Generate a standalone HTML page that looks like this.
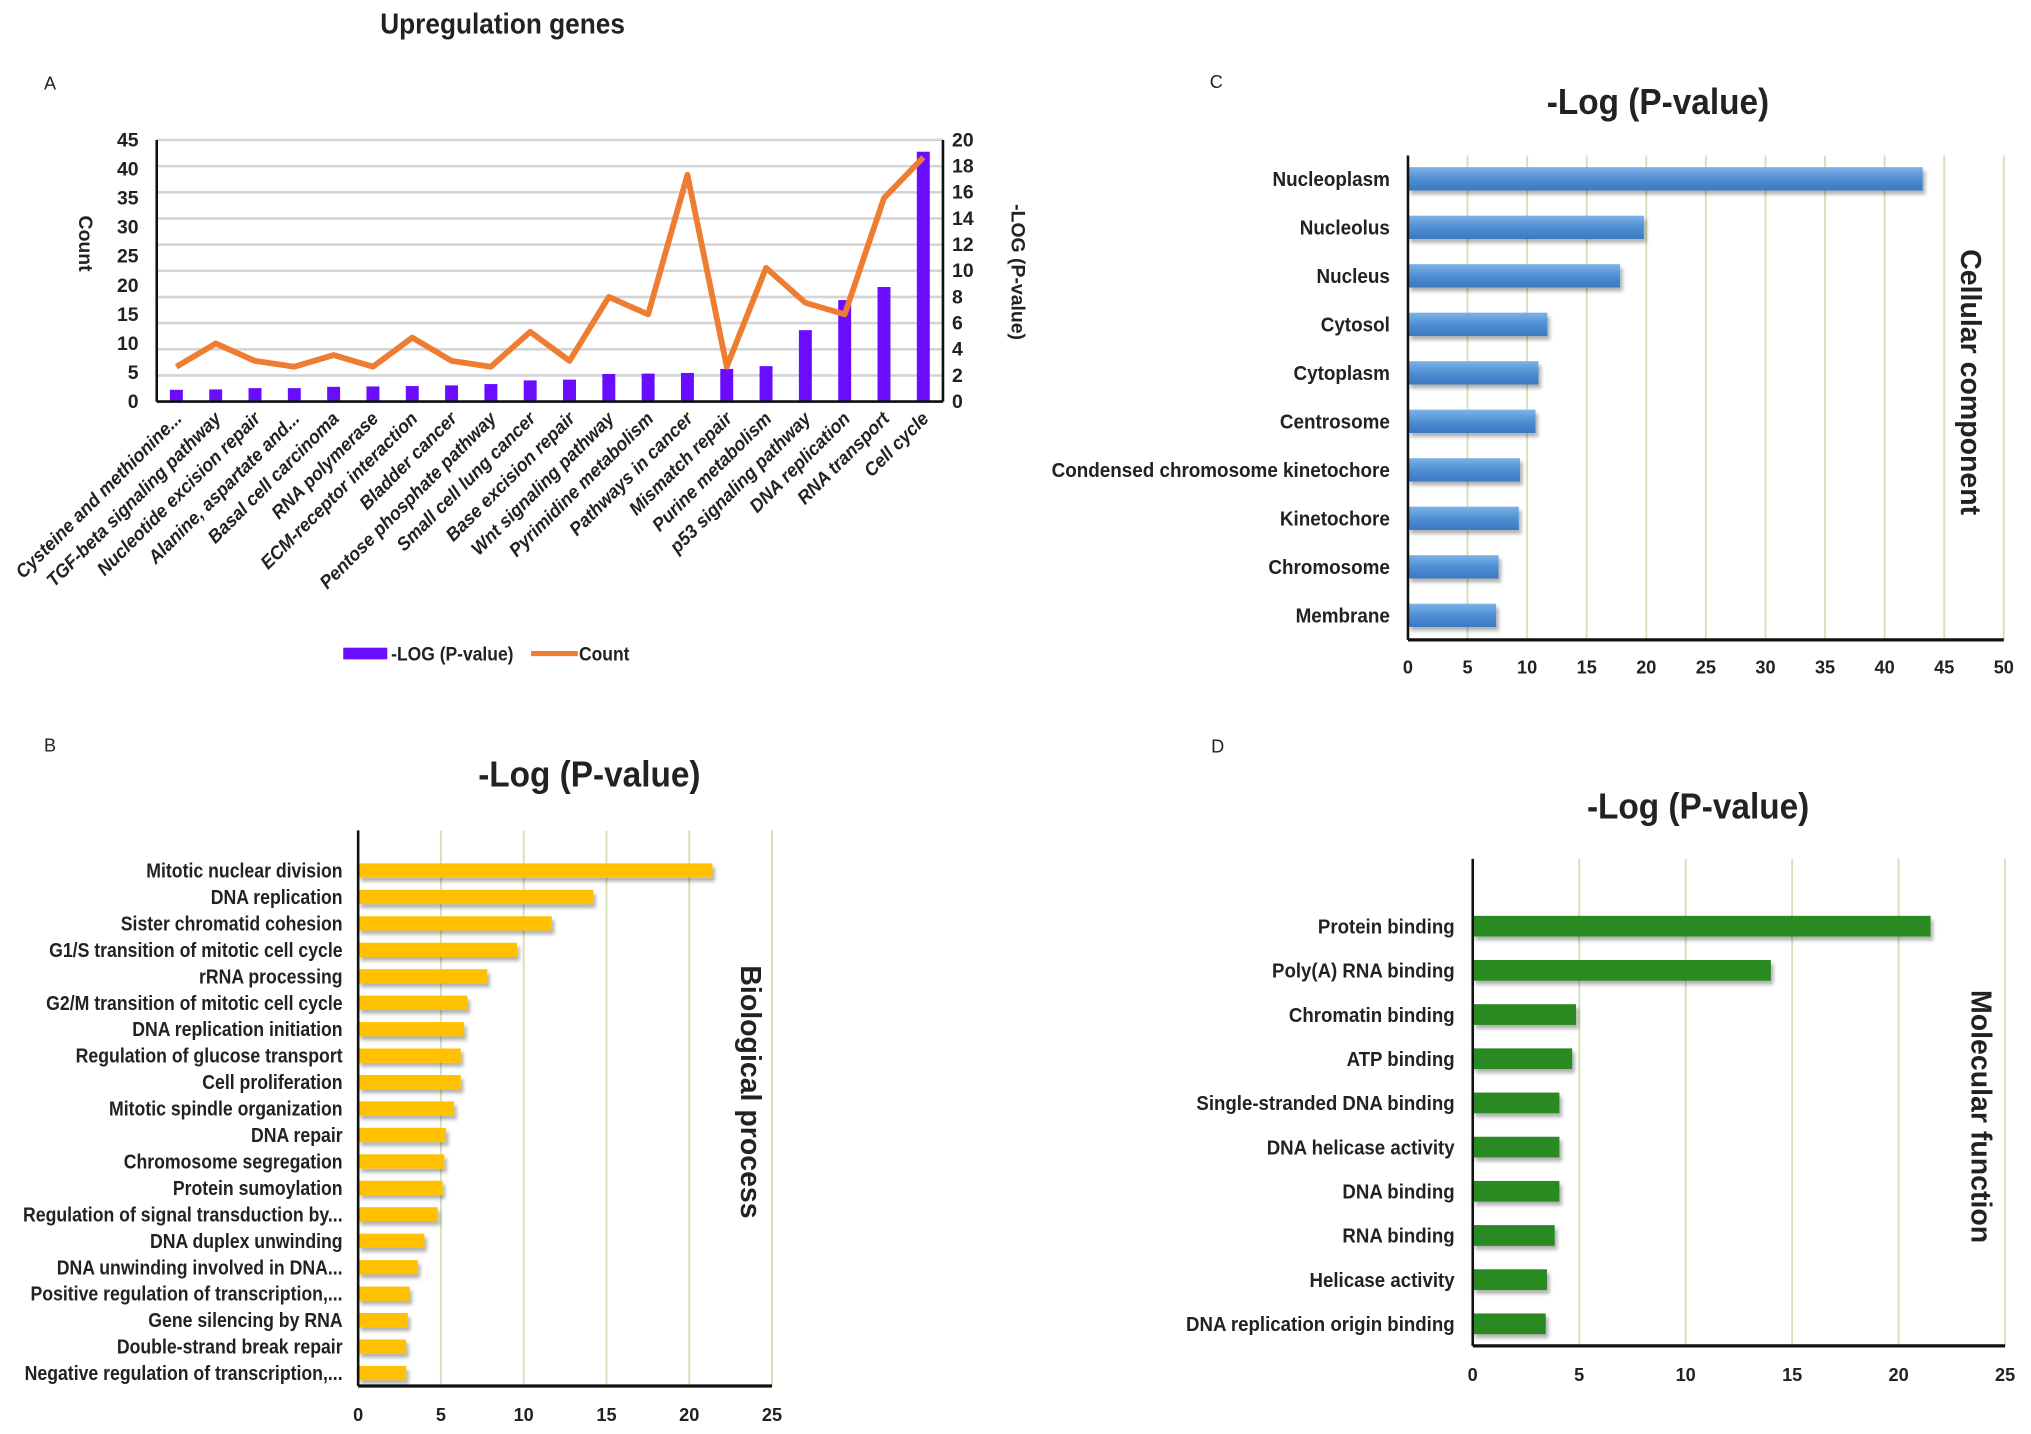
<!DOCTYPE html>
<html><head><meta charset="utf-8"><style>
html,body{margin:0;padding:0;background:#fff}
svg{display:block}
text{font-family:"Liberation Sans Narrow","Liberation Sans",sans-serif;font-weight:bold;fill:#222}
</style></head><body>
<svg id="fig" xmlns="http://www.w3.org/2000/svg" width="2031" height="1434" viewBox="0 0 1568 1107">
<defs>
<linearGradient id="gBlue" x1="0" y1="0" x2="0" y2="1"><stop offset="0" stop-color="#7fb2e6"/><stop offset="0.5" stop-color="#4f8fd4"/><stop offset="1" stop-color="#3a78c0"/></linearGradient>
<filter id="sh" x="-10%" y="-30%" width="130%" height="190%"><feDropShadow dx="2" dy="3" stdDeviation="1.5" flood-color="#000" flood-opacity="0.3"/></filter>
</defs>
<text transform="translate(388,26) scale(0.92,1)" text-anchor="middle" font-size="22">Upregulation genes</text>
<text x="34" y="69" font-size="14" style="font-weight:normal">A</text>
<text x="934" y="68" font-size="14" style="font-weight:normal">C</text>
<text x="34" y="580" font-size="14" style="font-weight:normal">B</text>
<text x="935" y="581" font-size="14" style="font-weight:normal">D</text>
<g id="pa"></g>
<g id="pb"></g>
<g id="pc"></g>
<g id="pd"></g>
</svg>
<script>
// Panel A data
const aCategories = ["Cysteine and methionine...","TGF-beta signaling pathway","Nucleotide excision repair","Alanine, aspartate and...","Basal cell carcinoma","RNA polymerase","ECM-receptor interaction","Bladder cancer","Pentose phosphate pathway","Small cell lung cancer","Base excision repair","Wnt signaling pathway","Pyrimidine metabolism","Pathways in cancer","Mismatch repair","Purine metabolism","p53 signaling pathway","DNA replication","RNA transport","Cell cycle"];
const aLogP = [0.9,0.93,1.03,1.03,1.13,1.16,1.19,1.24,1.34,1.62,1.68,2.11,2.14,2.19,2.5,2.71,5.46,7.76,8.76,19.1];
const aCount = [6,10,7,6,8,6,11,7,6,12,7,18,15,39,6,23,17,15,35,42];
const aLeftTicks = [0,5,10,15,20,25,30,35,40,45];
const aRightTicks = [0,2,4,6,8,10,12,14,16,18,20];
// Panel B data
const bCategories = ["Mitotic nuclear division","DNA replication","Sister chromatid cohesion","G1/S transition of mitotic cell cycle","rRNA processing","G2/M transition of mitotic cell cycle","DNA replication initiation","Regulation of glucose transport","Cell proliferation","Mitotic spindle organization","DNA repair","Chromosome segregation","Protein sumoylation","Regulation of signal transduction by...","DNA duplex unwinding","DNA unwinding involved in DNA...","Positive regulation of transcription,...","Gene silencing by RNA","Double-strand break repair","Negative regulation of transcription,..."];
const bValues = [21.4,14.2,11.7,9.6,7.8,6.6,6.4,6.2,6.2,5.8,5.3,5.2,5.1,4.8,4.0,3.6,3.1,3.0,2.9,2.9];
const bTicks = [0,5,10,15,20,25];
// Panel C data
const cCategories = ["Nucleoplasm","Nucleolus","Nucleus","Cytosol","Cytoplasm","Centrosome","Condensed chromosome kinetochore","Kinetochore","Chromosome","Membrane"];
const cValues = [43.2,19.8,17.8,11.7,10.95,10.7,9.4,9.3,7.6,7.4];
const cTicks = [0,5,10,15,20,25,30,35,40,45,50];
// Panel D data
const dCategories = ["Protein binding","Poly(A) RNA binding","Chromatin binding","ATP binding","Single-stranded DNA binding","DNA helicase activity","DNA binding","RNA binding","Helicase activity","DNA replication origin binding"];
const dValues = [21.5,14.0,4.85,4.67,4.07,4.07,4.07,3.85,3.49,3.43];
const dTicks = [0,5,10,15,20,25];

const NS="http://www.w3.org/2000/svg";
function mk(parent,tag,attrs,txt){const e=document.createElementNS(NS,tag);for(const k in attrs)e.setAttribute(k,attrs[k]);if(txt!==undefined)e.textContent=txt;parent.appendChild(e);return e;}

// ---------- Panel A ----------
(function(){
const g=document.getElementById('pa');
const L=121,R=728,T=108,B=310;
const bw=(R-L)/aCategories.length;
const yL=v=>B-(v/45)*(B-T);
const yR=v=>B-(v/20)*(B-T);
const xC=i=>L+bw*(i+0.5);
aRightTicks.forEach(t=>{
  const ln=mk(g,'line',{x1:L,x2:R,y1:yR(t),y2:yR(t),stroke:'#d4d4d4','stroke-width':2});
  
  
  const tx=mk(g,'text',{x:R+7,y:yR(t)+5,'font-size':15},t);
  
  
});
aLeftTicks.forEach(t=>{
  const tx=mk(g,'text',{x:L-14,y:yL(t)+5,'text-anchor':'end','font-size':15},t);
  
  
});
aLogP.forEach((v,i)=>{
  const r=mk(g,'rect',{x:xC(i)-5,y:yR(v),width:10,height:B-yR(v),fill:'#6a0dff'});
  
  
});
const pts=aCount.map((v,i)=>xC(i)+','+yL(v)).join(' ');
const pl=mk(g,'polyline',{points:pts,fill:'none',stroke:'#ee7d31','stroke-width':4.5,'stroke-linejoin':'round'});


[[L,T,L,B],[R,T,R,B],[L,B,R,B]].forEach(a=>{
  const ln=mk(g,'line',{x1:a[0],y1:a[1],x2:a[2],y2:a[3],stroke:'#111','stroke-width':2});
  
  
});
aCategories.forEach((c,i)=>{
  const x=xC(i)+5,y=B+14;
  const tx=mk(g,'text',{x:0,y:0,'text-anchor':'end','font-size':14.5,'font-style':'italic',transform:`translate(${x},${y}) rotate(-45) scale(0.95,1)`},c);
  
  
});
const yt=mk(g,'text',{x:0,y:0,'text-anchor':'middle','font-size':15,transform:'translate(61,188) rotate(90)'},'Count');


const yt2=mk(g,'text',{x:0,y:0,'text-anchor':'middle','font-size':15,transform:'translate(781,210) rotate(90)'},'-LOG (P-value)');


const lr=mk(g,'rect',{x:265,y:500,width:34,height:9,fill:'#6a0dff'});


const lt=mk(g,'text',{x:0,y:0,'font-size':15,transform:'translate(302,510) scale(0.9,1)'},'-LOG (P-value)');


const ll=mk(g,'line',{x1:410,x2:446,y1:504.5,y2:504.5,stroke:'#ee7d31','stroke-width':4});


const lt2=mk(g,'text',{x:0,y:0,'font-size':15,transform:'translate(447,510) scale(0.9,1)'},'Count');


})();

// ---------- Horizontal bar panels ----------
function hbar(id,cats,vals,ticks,o){
  const g=document.getElementById(id);
  const x=v=>o.L+(v/ticks[ticks.length-1])*(o.R-o.L);
  const n=cats.length;
  const step=(o.lastC-o.firstC)/(n-1);
  const yc=i=>o.firstC+step*i;
  ticks.forEach(t=>{
    if(t>0){
      const ln=mk(g,'line',{x1:x(t),x2:x(t),y1:o.T,y2:o.B,stroke:'#d3e2b8','stroke-width':1.5});
      
      
    }
    const tx=mk(g,'text',{x:x(t),y:o.tickY,'text-anchor':'middle','font-size':o.tfs},t);
    
    
  });
  vals.forEach((v,i)=>{
    const r=mk(g,'rect',{x:o.L,y:yc(i)-o.bh/2,width:x(v)-o.L,height:o.bh,fill:o.fill,filter:'url(#sh)'});
    
    
  });
  cats.forEach((c,i)=>{
    const tx=mk(g,'text',{x:0,y:0,'text-anchor':'end','font-size':o.lfs,transform:`translate(${o.L-o.lpad},${yc(i)+o.lfs*0.35}) scale(${o.sx},1)`},c);
    
    
  });
  const a1=mk(g,'line',{x1:o.L,x2:o.L,y1:o.T,y2:o.B,stroke:'#111','stroke-width':2});
  
  
  const a2=mk(g,'line',{x1:o.L,x2:o.R,y1:o.B,y2:o.B,stroke:'#111','stroke-width':2.5});
  
  
  const ti=mk(g,'text',{x:0,y:0,'text-anchor':'middle','font-size':28,transform:`translate(${o.titleX},${o.titleY}) scale(0.92,1)`},'-Log (P-value)');
  
  
  const si=mk(g,'text',{x:0,y:0,'text-anchor':'middle','font-size':22,transform:`translate(${o.sideX},${o.sideY}) rotate(90)`},o.side);
  
  
}
hbar('pb',bCategories,bValues,bTicks,{p:'b',L:276.5,R:596,T:641,B:1070,firstC:672,lastC:1060,bh:11,fill:'#ffc000',tickY:1097,tfs:14,lfs:15.5,lpad:12,sx:0.88,titleX:455,titleY:607,side:'Biological process',sideX:572,sideY:843});
hbar('pc',cCategories,cValues,cTicks,{p:'c',L:1087,R:1547,T:120,B:494,firstC:138,lastC:475,bh:18,fill:'url(#gBlue)',tickY:520,tfs:14,lfs:16,lpad:14,sx:0.91,titleX:1280,titleY:88,side:'Cellular component',sideX:1514,sideY:295});
hbar('pd',dCategories,dValues,dTicks,{p:'d',L:1137,R:1548,T:663,B:1039,firstC:715,lastC:1022,bh:16,fill:'#2b8a22',tickY:1066,tfs:14,lfs:16,lpad:14,sx:0.9,titleX:1311,titleY:632,side:'Molecular function',sideX:1522,sideY:862});
</script>
</body></html>
